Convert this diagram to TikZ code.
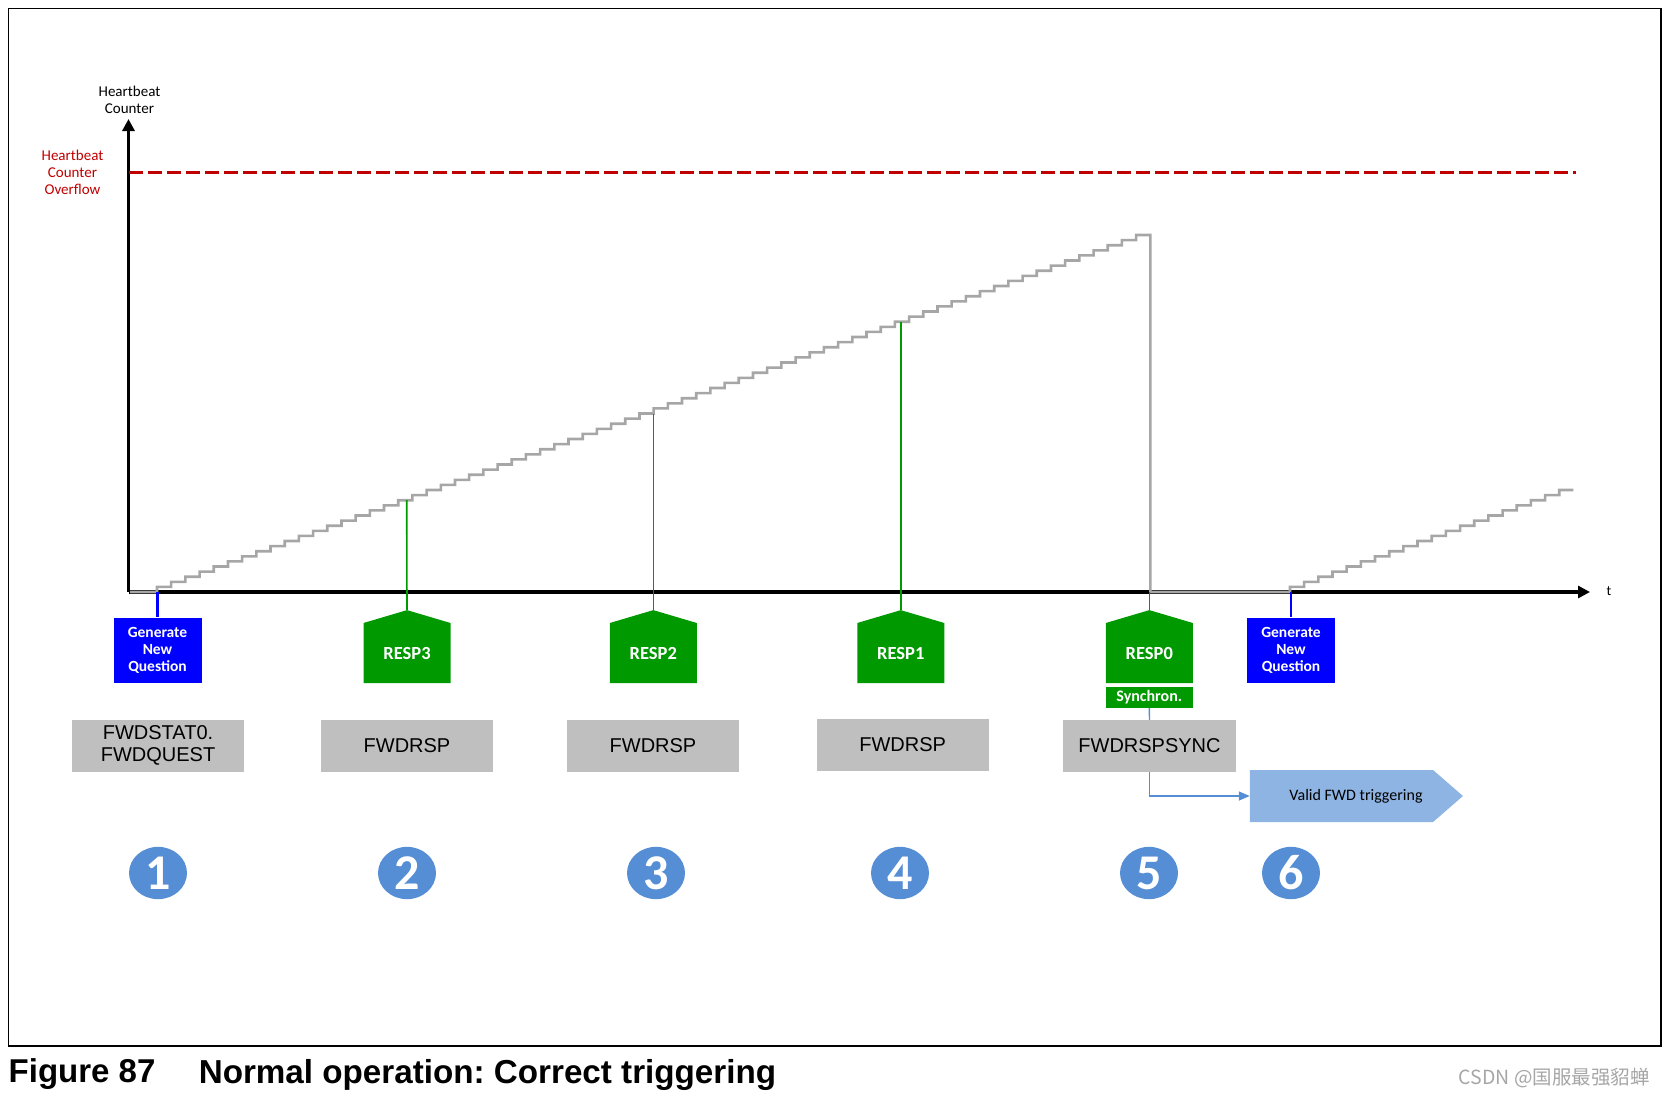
\documentclass[tikz,border=0pt]{standalone}
\usepackage{fontspec}
\setmainfont{Liberation Sans}
\newfontfamily\calibri{Carlito}
\newfontfamily\cjk{Noto Sans CJK SC}
\usetikzlibrary{shapes.symbols,shapes.geometric,arrows.meta}
\definecolor{qblue}{RGB}{0,0,255}
\definecolor{rgreen}{RGB}{0,153,0}
\definecolor{reggray}{RGB}{191,191,191}
\definecolor{stairgray}{RGB}{166,166,166}
\definecolor{ovfred}{RGB}{192,0,0}
\definecolor{validblue}{RGB}{142,180,227}
\definecolor{numblue}{RGB}{85,142,213}
\frenchspacing

\begin{document}
\begin{tikzpicture}[x=1pt,y=-1pt,
    axis/.style={line width=3.2pt,-{Triangle[length=12pt,width=12pt]}},
    stair/.style={draw=stairgray,line width=2.6pt},
    question/.style={fill=qblue,text=white,font=\calibri\bfseries\fontsize{15.5}{17}\selectfont,align=center,minimum width=88,minimum height=65,inner sep=0pt},
    resp/.style={signal,signal to=north,signal pointer angle=147,fill=rgreen,text=white,font=\calibri\bfseries\fontsize{18.5}{20}\selectfont,minimum width=87,minimum height=67,inner sep=0pt},
    register/.style={fill=reggray,font=\fontsize{20}{21.7}\selectfont,align=center,minimum width=172,minimum height=52,inner sep=0pt},
    stepnum/.style={ellipse,fill=numblue,text=white,font=\calibri\bfseries\fontsize{50}{50}\selectfont,minimum width=58,minimum height=52.3,inner sep=0pt},
    resline/.style={draw=rgreen,line width=1.6pt},
    qline/.style={draw=qblue,line width=2.2pt},
    validline/.style={draw=numblue,line width=1.4pt}]
    \useasboundingbox (0,0) rectangle (1665,1098);
    \draw[line width=1.2pt] (8.5,8.5) rectangle (1661,1046);

    % axes
    \coordinate (o) at (128.5,592);
    \coordinate (ytip) at (128.5,119);
    \coordinate (xtip) at (1590,592);
    \draw[axis] (o) -- (ytip);
    \draw[axis] (o) -- (xtip);
    \node (ylab) at (129.5,100) [font=\calibri\fontsize{15}{17}\selectfont,align=center] {Heartbeat\\Counter};
    \node (tlab) at (1609,591) [font=\calibri\fontsize{14}{16}\selectfont] {t};

    % overflow level
    \node (ovf) at (72.5,172.5) [text=ovfred,font=\calibri\fontsize{15}{17}\selectfont,align=center] {Heartbeat\\Counter\\Overflow};
    \coordinate (ovfa) at (129,172);
    \coordinate (ovfb) at (1576,172);
    \draw[draw=ovfred,line width=3pt,dash pattern=on 14pt off 5pt] (ovfa) -- (ovfb);

    % heartbeat counter
    \draw[stair] (130,592) -- (157,592) foreach \k in {1,...,70} { -- ++(0,-5.1) -- ++(14.19,0) }
        -- (1150.3,592) -- (1290,592) foreach \k in {1,...,20} { -- ++(0,-5.1) -- ++(14.17,0) };

    \coordinate (q1) at (157.5,592);
    \coordinate (r3) at (406.7,500.2);
    \coordinate (r2) at (653.3,413.5);
    \coordinate (r1) at (900.8,321.7);
    \coordinate (r0) at (1149.3,592);
    \coordinate (q2) at (1291,592);

    % events
    \node (gen1) at (157.5,650) [question] {Generate\\New\\Question};
    \node (resp3) at (407,653) [resp] {RESP3};
    \node (resp2) at (653.3,653) [resp] {RESP2};
    \node (resp1) at (900.8,653) [resp] {RESP1};
    \node (resp0) at (1149.3,653) [resp] {RESP0};
    \node (gen2) at (1291,650) [question] {Generate\\New\\Question};
    \node (sync) at (1149.3,697.5) [fill=rgreen,text=white,font=\calibri\bfseries\fontsize{16}{17}\selectfont,minimum width=87,minimum height=20.4,inner sep=0pt] {Synchron.};

    \draw[qline] (q1) -- (gen1.north);
    \draw[qline] (q2) -- (gen2.north);
    \draw[resline] (r3) -- (resp3.north);
    \draw[resline] (r2) -- (resp2.north);
    \draw[resline] (r1) -- (resp1.north);
    \draw[resline] (r0) -- (resp0.north);

    % registers
    \node (reg1) at (158,745.5) [register] {FWDSTAT0.\\FWDQUEST};
    \node (reg2) at (407,746) [register] {FWDRSP};
    \node (reg3) at (653,746) [register] {FWDRSP};
    \node (reg4) at (902.6,745) [register] {FWDRSP};
    \node (reg5) at (1149.5,746) [register,minimum width=173] {FWDRSPSYNC};

    \node (valid) at (1341.5,796) [signal,signal to=east,signal pointer angle=82,fill=validblue,font=\calibri\fontsize{16}{17}\selectfont,minimum width=213,minimum height=52,inner sep=0pt] {\hspace*{29pt}Valid FWD triggering};
    \draw[validline] (sync.south) -- (reg5.north);
    \draw[validline,-{Triangle[length=11pt,width=9pt]}] (reg5.south) |- (valid.west);

    % step numbers
    \node (n1) at (158,873) [stepnum] {1};
    \node (n2) at (407,873) [stepnum] {2};
    \node (n3) at (656,873) [stepnum] {3};
    \node (n4) at (900,873) [stepnum] {4};
    \node (n5) at (1149,873) [stepnum] {5};
    \node (n6) at (1291,873) [stepnum] {6};

    % caption
    \node (fig) at (8.5,1074.5) [anchor=west,inner sep=0pt,font=\bfseries\fontsize{33}{36}\selectfont] {Figure 87};
    \node (cap) at (198.6,1074.5) [anchor=west,inner sep=0pt,font=\bfseries\fontsize{33.2}{36}\selectfont] {Normal operation: Correct triggering};
    \node (wm) at (1650,1078) [anchor=east,inner sep=0pt,text=black!35,font=\cjk\fontsize{19.5}{21}\selectfont] {CSDN @国服最强貂蝉};
\end{tikzpicture}
\end{document}
